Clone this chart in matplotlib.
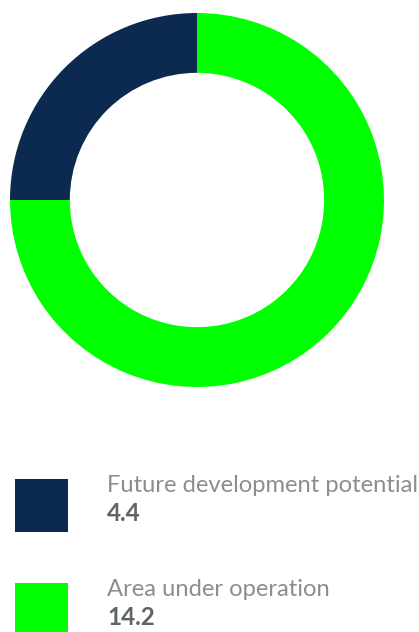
import matplotlib
matplotlib.use("Agg")
import matplotlib.pyplot as plt
from matplotlib.patches import Rectangle

labels = ["Future development potential", "Area under operation"]
values_text = ["4.4", "14.2"]
shares = [25, 75]  # slice shares as drawn in the picture
colors = ["#0c2a50", "#00ff00"]

W, H = 419, 632
fig = plt.figure(figsize=(W / 100, H / 100), dpi=100)
fig.patch.set_facecolor("white")

# donut
cx, cy, R = 197, 200, 187
ax = fig.add_axes([(cx - R) / W, (H - cy - R) / H, 2 * R / W, 2 * R / H])
ax.pie(shares, colors=colors, startangle=90, counterclock=True,
       radius=1.0, wedgeprops=dict(width=0.32, edgecolor="none", linewidth=0))
ax.set_xlim(-1, 1)
ax.set_ylim(-1, 1)
ax.set_aspect("equal")
ax.axis("off")

# legend
ys = [479, 583]
for i, (lab, val, col) in enumerate(zip(labels, values_text, colors)):
    y0 = ys[i]
    fig.patches.append(Rectangle((15 / W, 1 - (y0 + 53) / H), 53 / W, 53 / H,
                                 transform=fig.transFigure, facecolor=col,
                                 edgecolor="none", figure=fig))
    fig.text(107 / W, 1 - (y0 + 13) / H, lab, fontsize=17.1, color="#8c8e8e",
             family="Lato", va="baseline", ha="left")
    fig.text(107 / W, 1 - (y0 + 42) / H, val, fontsize=17.5, color="#5f6464",
             family="Lato", fontweight="bold", va="baseline", ha="left")

fig.savefig("out.png", dpi=100, facecolor="white")
